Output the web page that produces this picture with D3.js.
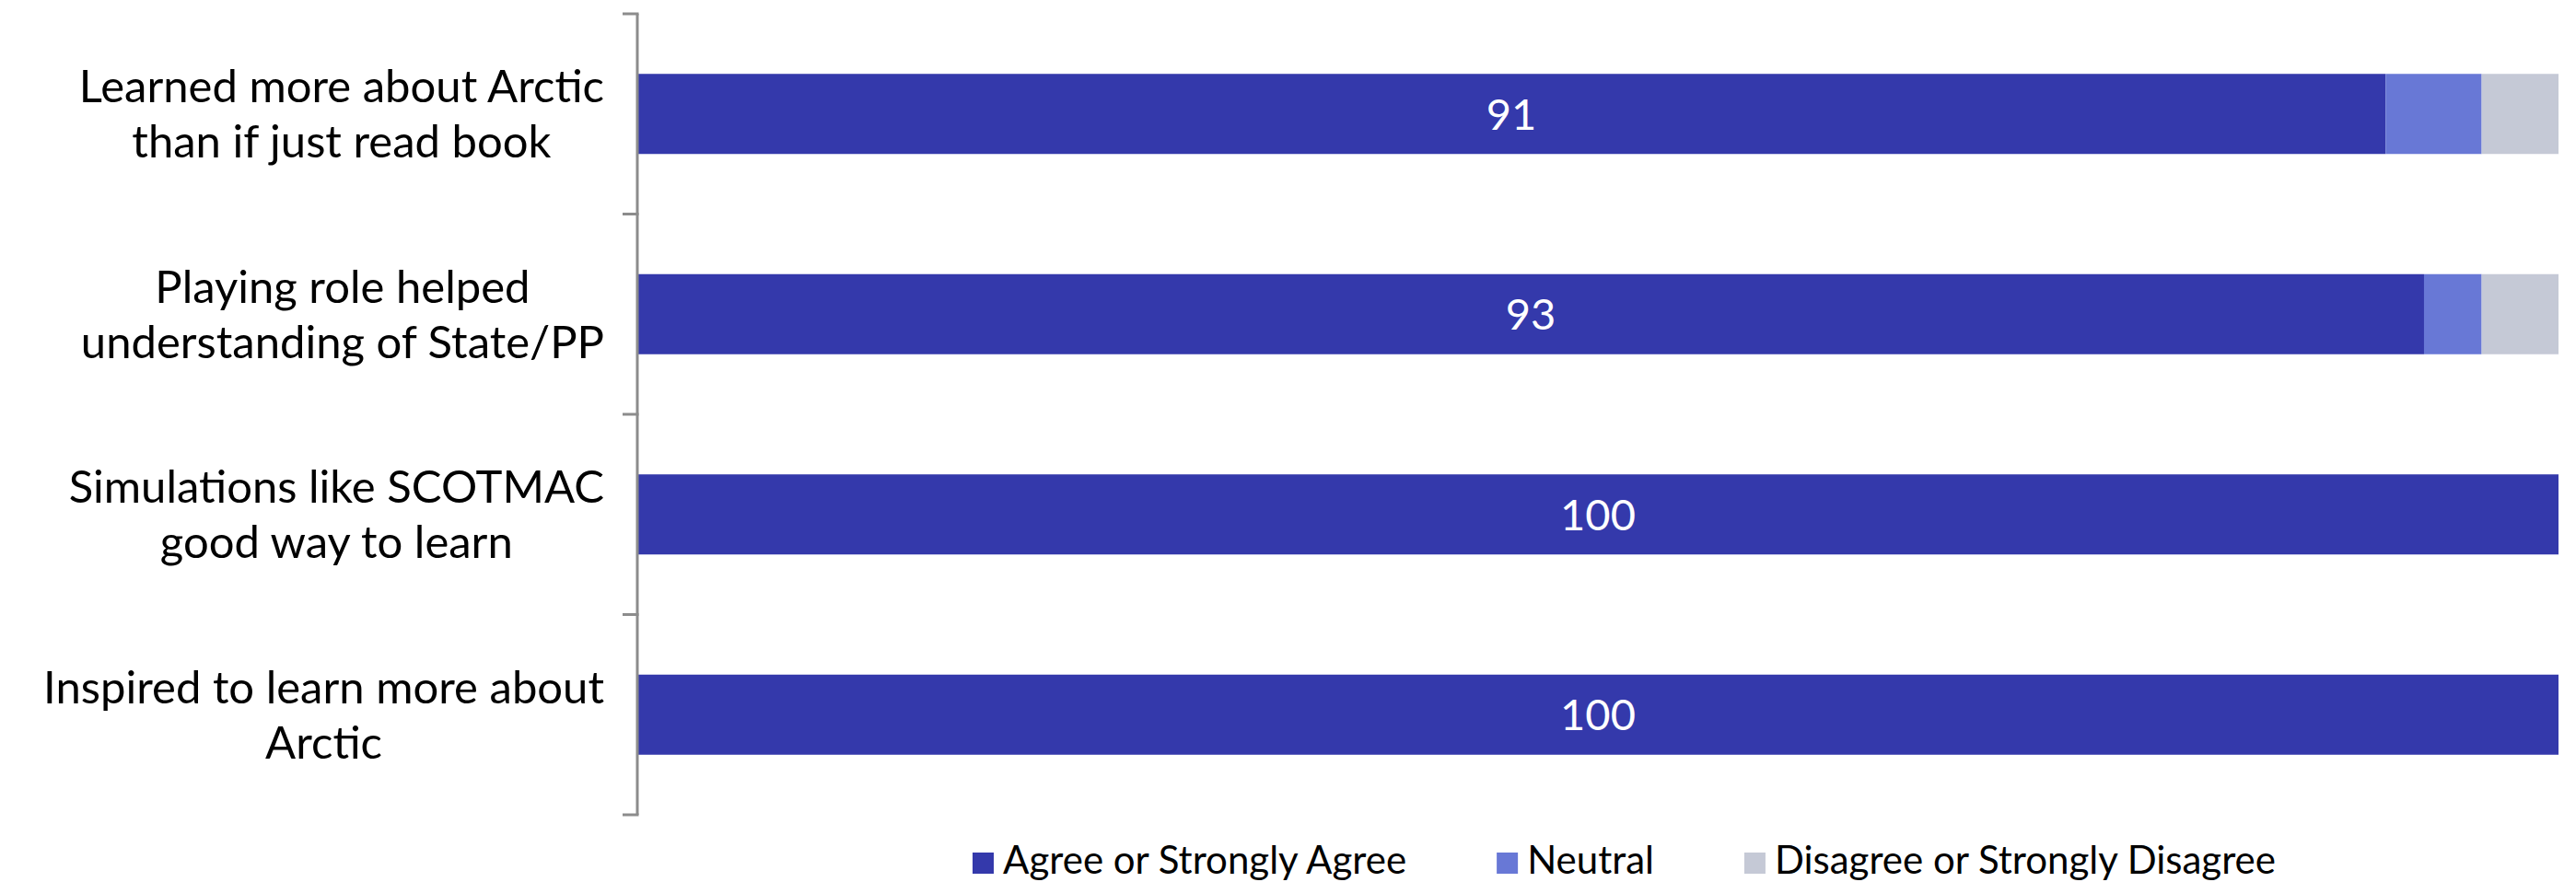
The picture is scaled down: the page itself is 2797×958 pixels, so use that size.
<!DOCTYPE html>
<html>
<head>
<meta charset="utf-8">
<script src="https://cdn.jsdelivr.net/npm/d3@7"></script>
<style>
  body { margin: 0; background: #fff; }
  text { font-family: Lato, "Open Sans", sans-serif; }
</style>
</head>
<body>
<div id="grafico"></div>
<script>
// data
var categories = [
  ["Learned more about Arctic", "than if just read book"],
  ["Playing role helped", "understanding of State/PP"],
  ["Simulations like SCOTMAC", "good way to learn"],
  ["Inspired to learn more about", "Arctic"]
];
var seriesNames = ["Agree or Strongly Agree", "Neutral", "Disagree or Strongly Disagree"];
var agree = [91, 93, 100, 100];
var neutral = [5, 3, 0, 0];
var disagree = [4, 4, 0, 0];
var colores = ["#3439AB", "#6878D6", "#C5C9D6"];

var W = 2797, H = 958;
var margin = {top: 15, right: 19, bottom: 73, left: 692};
var width = W - margin.left - margin.right,
    height = H - margin.top - margin.bottom;

var svg = d3.select("#grafico")
  .append("svg")
    .attr("width", W)
    .attr("height", H);

var g = svg.append("g")
  .attr("transform", "translate(" + margin.left + "," + margin.top + ")");

// build rows for stacking
var filas = categories.map(function(c, i) {
  return {idx: i, agree: agree[i], neutral: neutral[i], disagree: disagree[i]};
});
var stack = d3.stack().keys(["agree", "neutral", "disagree"]);
var series = stack(filas);

var x = d3.scaleLinear().domain([0, 100]).range([0, width]);
var y = d3.scaleBand()
  .domain(d3.range(categories.length))
  .range([0, height])
  .paddingInner(0.6)
  .paddingOuter(0.3);

// bars
g.selectAll("g.serie")
  .data(series)
  .enter().append("g")
    .attr("class", "serie")
    .attr("fill", function(d, i) { return colores[i]; })
  .selectAll("rect")
  .data(function(d) { return d; })
  .enter().append("rect")
    .attr("x", function(d) { return x(d[0]); })
    .attr("y", function(d) { return y(d.data.idx); })
    .attr("width", function(d) { return x(d[1]) - x(d[0]); })
    .attr("height", y.bandwidth());

// value labels in agree segment
g.selectAll("text.valor")
  .data(filas)
  .enter().append("text")
    .attr("class", "valor")
    .attr("x", function(d) { return x(d.agree / 2); })
    .attr("y", function(d) { return y(d.idx) + y.bandwidth() / 2; })
    .attr("dy", "0.36em")
    .attr("text-anchor", "middle")
    .attr("fill", "#fff")
    .attr("font-size", 47)
    .text(function(d) { return d.agree; });

// y axis with ticks at category boundaries
var eje = g.append("g").attr("class", "eje");
eje.append("line")
  .attr("x1", 0).attr("x2", 0)
  .attr("y1", 0).attr("y2", height)
  .attr("stroke", "#8C8C8C").attr("stroke-width", 3);
var cortes = d3.range(categories.length + 1).map(function(i) { return i * y.step(); });
eje.selectAll("line.tick")
  .data(cortes)
  .enter().append("line")
    .attr("class", "tick")
    .attr("x1", -16).attr("x2", 1.5)
    .attr("y1", function(d) { return d; })
    .attr("y2", function(d) { return d; })
    .attr("stroke", "#8C8C8C").attr("stroke-width", 3);

// category labels: wrapped lines, centered within a right-aligned block
var lineH = 60;
categories.forEach(function(lines, i) {
  var grp = g.append("g");
  var txts = lines.map(function(l, k) {
    return grp.append("text")
      .attr("font-size", 49)
      .attr("fill", "#000")
      .attr("text-anchor", "middle")
      .attr("y", y(i) + y.bandwidth() / 2 + (k - (lines.length - 1) / 2) * lineH)
      .attr("dy", "0.36em")
      .text(l);
  });
  var maxW = d3.max(txts, function(t) { return t.node().getComputedTextLength(); });
  txts.forEach(function(t) { t.attr("x", -36 - maxW / 2); });
});

// legend
var leg = svg.append("g").attr("transform", "translate(1056,949)");
var pos = 0;
seriesNames.forEach(function(n, i) {
  leg.append("rect")
    .attr("x", pos).attr("y", -23)
    .attr("width", 23).attr("height", 23)
    .attr("fill", colores[i]);
  var t = leg.append("text")
    .attr("x", pos + 33)
    .attr("y", 0)
    .attr("font-size", 42)
    .attr("fill", "#000")
    .text(n);
  pos += 33 + t.node().getComputedTextLength() + 98;
});
</script>
</body>
</html>
